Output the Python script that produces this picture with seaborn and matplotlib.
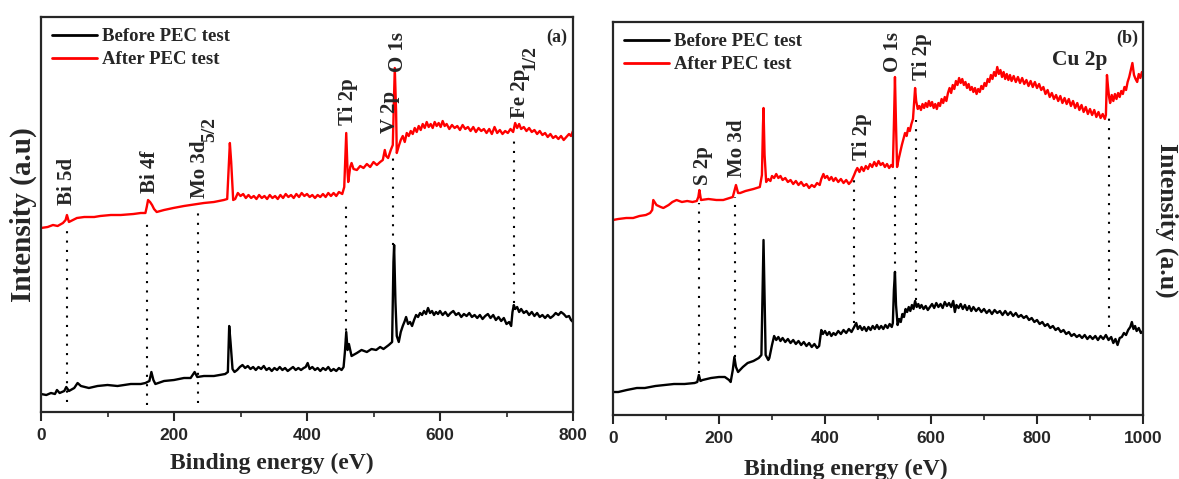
import numpy as np
import pandas as pd
import matplotlib
matplotlib.use("Agg")
import matplotlib.pyplot as plt
from matplotlib.ticker import MultipleLocator
import seaborn as sns

# ---------------- data ----------------
# Panel (a): (binding energy eV, intensity a.u.)
a_before = [(0, 18), (8, 17), (15, 19), (21, 18), (24, 22), (28, 19), (35, 21), (38, 25), (42, 21), (50, 24),
            (55, 29), (60, 26), (72, 24), (85, 26), (100, 27), (115, 26), (135, 28), (150, 28), (157, 29),
            (163, 31), (166, 40), (169, 32), (172, 28), (185, 31), (200, 32), (215, 34), (225, 34), (231, 40),
            (235, 35), (245, 36), (260, 36), (277, 38), (281, 40), (283, 86), (285, 70),
            (288, 43), (291, 40), (295, 42), (299, 45), (303, 47), (307, 44), (311, 46), (315, 43), (319, 45),
            (323, 42), (327, 45), (331, 43), (335, 46), (339, 42), (343, 44), (347, 41), (351, 44), (355, 42),
            (359, 45), (363, 42), (367, 44), (371, 41), (375, 43), (379, 45), (383, 42), (387, 44), (391, 42),
            (395, 44), (398, 45), (401, 49), (404, 43), (408, 45), (412, 42), (416, 44), (420, 41), (424, 44),
            (428, 42), (432, 45), (436, 41), (440, 43), (444, 41), (448, 44), (452, 42), (455, 45),
            (457, 60), (459, 80), (461, 62), (463, 68), (467, 56), (475, 59), (482, 62), (490, 60), (497, 63),
            (504, 62), (510, 65), (515, 63), (523, 67), (528, 70), (530, 150), (531, 167), (533, 110), (535, 76),
            (538, 70), (541, 80), (544, 86), (547, 91), (549, 95), (552, 88), (555, 90), (558, 86), (561, 92),
            (564, 97), (567, 95), (570, 99), (573, 97), (576, 101), (579, 98), (582, 104), (585, 99), (588, 101),
            (591, 97), (594, 100), (597, 98), (600, 101), (604, 97), (608, 100), (612, 96), (616, 99), (620, 101),
            (624, 97), (628, 99), (632, 95), (636, 98), (640, 96), (644, 99), (648, 95), (652, 97), (656, 94),
            (660, 97), (664, 93), (668, 96), (672, 98), (676, 94), (680, 97), (684, 92), (688, 95), (692, 91),
            (696, 94), (700, 88), (704, 90), (707, 86), (709, 100), (711, 107), (713, 103), (716, 105), (719, 100),
            (722, 103), (726, 99), (730, 101), (734, 97), (738, 100), (742, 96), (746, 99), (750, 95), (754, 97),
            (758, 94), (762, 97), (766, 94), (770, 96), (774, 99), (778, 97), (782, 100), (786, 98), (790, 95),
            (794, 96), (797, 92), (800, 90)]

a_after = [(0, 184), (10, 185), (18, 187), (25, 186), (33, 189), (37, 192), (39, 197), (42, 190), (48, 192),
           (54, 194), (65, 195), (80, 195), (89, 196), (105, 197), (120, 197), (139, 198), (150, 199), (157, 199),
           (159, 205), (161, 212), (164, 210), (167, 207), (170, 203), (174, 200), (185, 202), (199, 204),
           (215, 206), (225, 207), (234, 208), (245, 209), (260, 210), (275, 212), (280, 213), (282, 240),
           (284, 269), (286, 250),
           (289, 212), (292, 213), (296, 219), (300, 216), (304, 218), (308, 214), (312, 217), (316, 214),
           (320, 216), (324, 213), (328, 217), (332, 214), (336, 216), (340, 213), (344, 217), (348, 214),
           (352, 216), (356, 213), (360, 217), (364, 214), (368, 218), (372, 215), (376, 217), (380, 214),
           (384, 218), (388, 215), (392, 219), (396, 216), (400, 218), (404, 215), (408, 217), (412, 214),
           (416, 217), (420, 215), (424, 218), (428, 215), (432, 219), (436, 216), (440, 219), (444, 216),
           (448, 220), (453, 218),
           (456, 225), (459, 279), (461, 240), (462, 230), (465, 245), (467, 249), (470, 243), (475, 242),
           (480, 246), (485, 244), (490, 248), (495, 245), (500, 250), (505, 247), (510, 250), (514, 252),
           (517, 262), (519, 256), (522, 254), (526, 262), (529, 267), (531, 320), (532, 344), (534, 300),
           (535, 259), (538, 266), (541, 272), (544, 276), (547, 270), (550, 279), (553, 276), (556, 281),
           (559, 278), (562, 284), (565, 280), (568, 286), (571, 282), (574, 288), (577, 284), (580, 290),
           (583, 285), (586, 288), (589, 284), (592, 290), (595, 286), (598, 289), (601, 285), (604, 291),
           (607, 286), (610, 288), (614, 283), (618, 287), (622, 284), (626, 286), (630, 282), (634, 287),
           (638, 283), (642, 285), (646, 281), (650, 285), (654, 280), (658, 284), (662, 281), (666, 283),
           (670, 279), (674, 283), (678, 278), (682, 285), (686, 279), (690, 282), (694, 278), (698, 281),
           (702, 279), (706, 283), (710, 280), (713, 289), (716, 284), (719, 288), (722, 283), (726, 285),
           (730, 281), (734, 284), (738, 280), (742, 282), (746, 278), (750, 281), (754, 277), (758, 279),
           (762, 275), (766, 278), (770, 274), (774, 276), (778, 273), (782, 276), (786, 272), (790, 275),
           (794, 278), (797, 276), (800, 281)]

# Panel (b)
b_before = [(0, 23), (10, 23), (26, 25), (45, 27), (60, 27), (80, 29), (97, 30), (115, 31), (135, 31), (154, 32),
            (159, 33), (162, 40), (165, 34), (169, 35), (185, 37), (200, 38), (211, 38), (219, 35), (222, 33),
            (226, 45), (229, 58), (232, 48), (236, 43), (245, 48), (254, 52), (265, 54), (275, 57), (280, 60),
            (282, 120), (284, 175), (286, 120), (288, 60), (290, 58), (293, 55), (295, 57),
            (300, 70), (304, 79), (308, 75), (312, 78), (316, 74), (320, 77), (325, 73), (330, 76), (335, 72),
            (340, 75), (345, 71), (350, 74), (355, 70), (360, 73), (365, 69), (370, 72), (375, 68), (380, 71),
            (385, 67), (389, 69), (393, 85), (396, 81), (400, 84), (404, 80), (408, 83), (412, 79), (416, 82),
            (420, 80), (425, 84), (430, 81), (435, 85), (440, 82), (445, 86), (450, 83), (455, 88), (459, 92),
            (462, 86), (466, 89), (470, 85), (474, 88), (478, 84), (482, 88), (486, 85), (490, 89), (494, 86),
            (498, 90), (502, 86), (506, 89), (510, 86), (514, 90), (518, 87), (522, 91), (526, 88), (528, 92),
            (530, 125), (532, 143), (534, 110),
            (537, 90), (540, 96), (543, 93), (546, 101), (549, 98), (552, 106), (555, 103), (558, 108), (561, 104),
            (564, 110), (567, 106), (570, 114), (573, 108), (576, 111), (579, 107), (582, 110), (586, 106),
            (590, 109), (594, 105), (598, 108), (602, 111), (606, 107), (610, 112), (614, 108), (618, 111),
            (622, 107), (626, 113), (630, 109), (634, 112), (638, 108), (642, 114), (645, 103), (648, 110),
            (652, 107), (656, 111), (660, 106), (664, 110), (668, 105), (672, 109), (676, 104), (680, 108),
            (685, 104), (690, 107), (695, 103), (700, 106), (705, 102), (710, 105), (715, 101), (720, 105),
            (725, 102), (730, 104), (735, 100), (740, 104), (745, 100), (750, 103), (755, 99), (760, 102),
            (765, 98), (770, 100), (775, 97), (780, 99), (785, 95), (790, 97), (795, 93), (800, 95), (805, 91),
            (810, 93), (815, 89), (820, 91), (825, 87), (830, 89), (835, 85), (840, 87), (845, 83), (850, 85),
            (855, 81), (860, 83), (865, 79), (870, 81), (875, 78), (880, 80), (885, 77), (890, 80), (895, 76),
            (900, 79), (905, 76), (910, 79), (915, 75), (920, 79), (925, 76), (930, 80), (935, 75), (940, 78),
            (944, 72), (948, 76), (952, 70), (956, 77), (960, 78), (964, 82), (968, 80), (972, 85), (976, 88),
            (979, 93), (982, 86), (985, 89), (988, 84), (992, 87), (996, 82), (1000, 84)]

b_after = [(0, 195), (10, 196), (25, 197), (38, 197), (50, 199), (62, 200), (70, 202), (74, 205), (76, 215),
           (82, 210), (90, 208), (95, 207), (105, 210), (112, 213), (120, 215), (130, 213), (140, 214), (150, 213),
           (158, 214), (161, 218), (163, 225), (166, 215), (180, 216), (195, 215), (208, 215), (220, 217),
           (226, 218), (230, 226), (232, 230), (236, 222), (240, 222), (250, 224), (265, 226), (277, 228),
           (281, 240), (283, 290), (284, 307), (286, 260),
           (289, 233), (293, 236), (297, 234), (300, 239), (304, 237), (308, 241), (312, 237), (316, 239),
           (320, 235), (325, 237), (330, 233), (335, 235), (340, 231), (345, 234), (350, 230), (355, 233),
           (360, 229), (365, 231), (370, 227), (375, 230), (380, 228), (385, 232), (390, 230), (393, 236),
           (397, 241), (400, 237), (404, 239), (408, 235), (412, 238), (416, 234), (420, 237), (425, 233),
           (430, 236), (435, 232), (440, 235), (445, 231), (450, 234), (455, 240), (458, 244), (461, 247),
           (465, 243), (469, 248), (473, 244), (477, 249), (481, 246), (485, 251), (489, 248), (493, 253),
           (497, 249), (501, 254), (505, 250), (509, 252), (513, 248), (517, 251), (521, 247), (525, 250),
           (528, 248), (530, 290), (532, 338), (534, 290),
           (536, 248), (539, 256), (542, 263), (545, 270), (548, 276), (551, 282), (554, 279), (557, 287),
           (560, 284), (563, 291), (566, 296), (568, 312), (570, 327), (572, 314), (575, 306), (578, 309),
           (581, 305), (584, 311), (587, 307), (590, 312), (593, 308), (596, 314), (599, 309), (602, 313),
           (605, 307), (608, 311), (611, 306), (614, 312), (617, 309), (620, 316), (623, 312), (626, 318),
           (629, 314), (632, 322), (635, 327), (638, 322), (641, 330), (644, 326), (647, 334), (650, 330),
           (653, 337), (656, 332), (659, 336), (662, 330), (665, 333), (668, 327), (671, 331), (674, 325),
           (677, 328), (680, 323), (683, 327), (686, 321), (689, 326), (692, 323), (695, 329), (698, 326),
           (701, 332), (704, 329), (707, 336), (710, 333), (713, 340), (716, 336), (719, 343), (722, 339),
           (725, 348), (728, 341), (731, 345), (734, 338), (737, 343), (740, 336), (743, 341), (746, 335),
           (749, 340), (752, 334), (756, 339), (760, 333), (764, 338), (768, 332), (772, 337), (776, 331),
           (780, 335), (784, 329), (788, 334), (792, 328), (796, 333), (800, 327), (804, 331), (808, 325),
           (812, 328), (816, 321), (820, 325), (824, 318), (828, 322), (832, 316), (836, 320), (840, 314),
           (844, 319), (848, 312), (852, 317), (856, 311), (860, 316), (864, 309), (868, 314), (872, 307),
           (876, 312), (880, 305), (884, 310), (888, 303), (892, 308), (896, 301), (900, 306), (904, 300),
           (908, 305), (912, 298), (916, 303), (920, 297), (924, 301), (928, 296), (930, 300), (932, 340),
           (934, 328), (936, 318), (938, 312), (941, 320), (944, 314), (947, 321), (950, 316), (953, 322),
           (956, 318), (959, 324), (962, 321), (965, 328), (968, 325), (971, 333), (974, 338), (977, 345),
           (980, 352), (983, 340), (986, 336), (989, 333), (992, 341), (995, 337), (998, 343), (1000, 340)]

# Peak labels: text, subscript, x of label, bottom of label
a_labels = ["Bi 5d", "Bi 4f", "Mo 3d", "Ti 2p", "V 2p", "O 1s", "Fe 2p"]
a_subs = ["", "", "5/2", "", "", "", "1/2"]
a_label_x = [39, 164, 239, 461, 525, 537, 720]
a_label_y = [207, 219, 214, 287, 279, 340, 294]
# dotted marker lines: x, lower end, upper end
a_line_x = [39, 160, 236, 458, 530, 712]
a_line_lo = [10, 7, 9, 72, 167, 109]
a_line_hi = [182, 192, 205, 212, 255, 275]

b_labels = ["S 2p", "Mo 3d", "Ti 2p", "O 1s", "Ti 2p"]
b_subs = ["", "", "", "", ""]
b_label_x = [170, 234, 470, 528, 583]
b_label_y = [230, 238, 255, 343, 335]
b_line_x = [162, 230, 455, 532, 571, 936]
b_line_lo = [42, 58, 92, 142, 115, 88]
b_line_hi = [212, 218, 235, 245, 295, 300]

legend_labels = ["Before PEC test", "After PEC test"]

# ---------------- style ----------------
sns.set_style("ticks")
plt.rcParams["font.family"] = ["Liberation Serif", "DejaVu Serif"]
plt.rcParams["font.weight"] = "bold"
plt.rcParams["axes.linewidth"] = 1.6

fig = plt.figure(figsize=(11.79, 4.79), dpi=100)
ax1 = fig.add_axes([41 / 1179, 1 - 412 / 479, 532 / 1179, 395 / 479])
ax2 = fig.add_axes([613 / 1179, 1 - 415 / 479, 530 / 1179, 393 / 479])


def draw(ax, before, after, xmax, ymax, labels, subs, lx, ly, linex, linelo, linehi):
    df_b = pd.DataFrame(before, columns=["x", "y"])
    df_r = pd.DataFrame(after, columns=["x", "y"])
    sns.lineplot(data=df_b, x="x", y="y", color="black", lw=1.7, ax=ax,
                 label=legend_labels[0], estimator=None, sort=False)
    sns.lineplot(data=df_r, x="x", y="y", color="#ff0000", lw=1.7, ax=ax,
                 label=legend_labels[1], estimator=None, sort=False)
    for x0, lo, hi in zip(linex, linelo, linehi):
        ax.plot([x0, x0], [lo, hi], color="black", lw=1.5, dashes=(1, 3.5))
    for t, s, x0, y0 in zip(labels, subs, lx, ly):
        txt = ax.text(x0, y0, t, rotation=90, ha="center", va="bottom", fontsize=15,
                      fontweight="bold")
        if s:
            ax.annotate(s, xy=(1, 1), xycoords=txt, xytext=(-6, -1), textcoords="offset points",
                        rotation=90, ha="left", va="bottom", fontsize=14, fontweight="bold")
    ax.set_xlim(0, xmax)
    ax.set_ylim(0, ymax)
    ax.set_yticks([])
    ax.xaxis.set_major_locator(MultipleLocator(200))
    ax.xaxis.set_minor_locator(MultipleLocator(100))
    ax.tick_params(axis="x", which="major", direction="out", length=6.5, width=1.5, pad=5)
    ax.tick_params(axis="x", which="minor", direction="out", length=3.5, width=1.2)
    for lab in ax.get_xticklabels():
        lab.set_fontfamily("Liberation Sans")
        lab.set_fontweight("bold")
        lab.set_fontsize(12.5)
    for sp in ax.spines.values():
        sp.set_visible(True)
        sp.set_linewidth(1.6)
    ax.set_xlabel("Binding energy (eV)", fontsize=17, fontweight="bold",
                  ha="center", va="center")
    leg = ax.legend(loc="upper left", frameon=False, prop=dict(size=13.5, weight="bold"),
                    handlelength=2.4, handletextpad=0.25, labelspacing=0.3,
                    borderaxespad=0.2, bbox_to_anchor=(0.0, 1.0))
    for h in leg.get_lines():
        h.set_linewidth(2.0)


draw(ax1, a_before, a_after, 800, 395,
     a_labels, a_subs, a_label_x, a_label_y, a_line_x, a_line_lo, a_line_hi)
draw(ax2, b_before, b_after, 1000, 393,
     b_labels, b_subs, b_label_x, b_label_y, b_line_x, b_line_lo, b_line_hi)

ax2.text(881, 355, "Cu 2p", ha="center", va="center", fontsize=15.5, fontweight="bold")
ax1.text(776, 375, "(a)", ha="center", va="center", fontsize=13, fontweight="bold")
ax2.text(970, 377, "(b)", ha="center", va="center", fontsize=13, fontweight="bold")

ax1.set_ylabel("Intensity (a.u)", fontsize=21, fontweight="bold", ha="center", va="center")
ax1.yaxis.set_label_coords((23 - 41) / 532, 0.5)
ax1.xaxis.set_label_coords(0.434, -0.129)

ax2.yaxis.set_label_position("right")
ax2.set_ylabel("Intensity (a.u)", fontsize=18.5, fontweight="bold", rotation=270,
               ha="center", va="center")
ax2.yaxis.set_label_coords((1167 - 613) / 530, 0.496)
ax2.xaxis.set_label_coords(0.44, -0.138)

fig.savefig("out.png", dpi=100)
